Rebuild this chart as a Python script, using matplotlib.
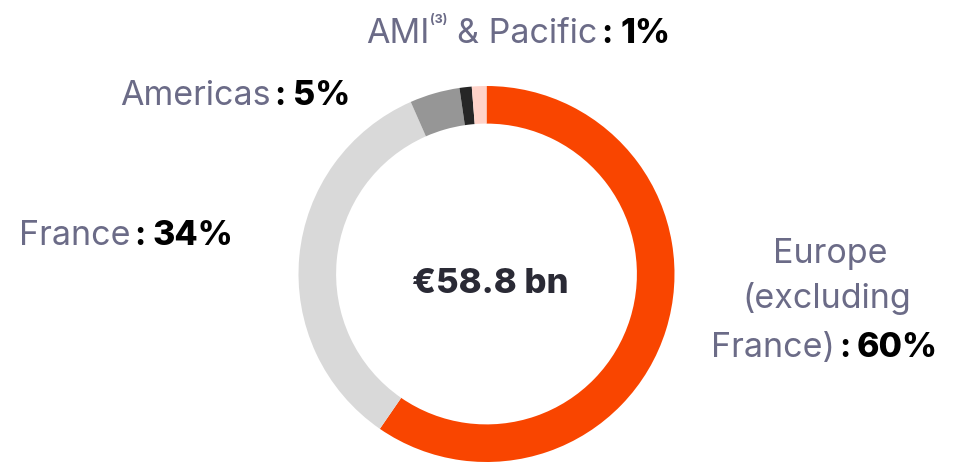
import matplotlib
matplotlib.use("Agg")
import matplotlib.pyplot as plt

# ---- data ----
segments = ["Europe (excluding France)", "France", "Americas", "AMI", "Pacific"]
shares = [59.6, 33.8, 4.3, 1.05, 1.25]
colors = ["#f94500", "#d9d9d9", "#969696", "#262626", "#ffd3c9"]
total_label = "€58.8 bn"
label_pct = {"Europe": "60%", "France": "34%", "Americas": "5%", "AMI & Pacific": "1%"}

W, H = 961, 462
fig = plt.figure(figsize=(W / 100, H / 100), dpi=100)
ax = fig.add_axes([0, 0, 1, 1])

cx, cy, R = 486.5, H - 274, 188
ax.pie(shares, colors=colors, startangle=90, counterclock=False,
       center=(cx, cy), radius=R, wedgeprops=dict(width=R * 0.2, linewidth=0),
       frame=True)
ax.set_xlim(0, W)
ax.set_ylim(0, H)
ax.set_aspect("equal")
ax.axis("off")

GREY = "#6b6b87"
FONT = ["Inter", "DejaVu Sans"]
LS = 24.5
fig.canvas.draw()
rend = fig.canvas.get_renderer()


def place(pieces, x, y, align="left"):
    """pieces: list of (text, kwargs, gap_after_px, dy). y in image coords (baseline)."""
    arts = []
    widths = []
    for txt, kw, gap, dy in pieces:
        t = ax.text(0, H - y + dy, txt, va="baseline", ha="left", family=FONT, **kw)
        bb = t.get_window_extent(rend)
        arts.append(t)
        widths.append(bb.width + gap)
    total = sum(widths) - pieces[-1][2]
    if align == "right":
        x = x - total
    elif align == "center":
        x = x - total / 2
    for t, w in zip(arts, widths):
        t.set_x(x)
        x += w


lab = dict(fontsize=LS, color=GREY)
col = dict(fontsize=LS, color="black", fontweight="bold")
pct = dict(fontsize=LS, color="black", fontweight="heavy")
sup = dict(fontsize=9, color=GREY, fontweight="bold")

# Americas
place([("Americas", lab, 4, 0), (":", col, 7, 0), (label_pct["Americas"], pct, 0, 0)], 350, 105, "right")
# France
place([("France", lab, 4, 0), (":", col, 7, 0), (label_pct["France"], pct, 0, 0)], 233, 245, "right")
# AMI & Pacific
place([("AMI", lab, 0, 0), ("(3)", sup, 10, 20), ("& Pacific", lab, 4, 0), (":", col, 7, 0),
       (label_pct["AMI & Pacific"], pct, 0, 0)], 670, 43, "right")
# Europe
place([("Europe", lab, 0, 0)], 830, 263, "center")
place([("(excluding", lab, 0, 0)], 827, 308, "center")
place([("France)", lab, 4, 0), (":", col, 7, 0), (label_pct["Europe"], pct, 0, 0)], 938, 357, "right")
# centre
ax.text(490, H - 293, total_label, ha="center", va="baseline", family=FONT,
        fontsize=25, fontweight="heavy", color="#2a2a35")

fig.savefig("out.png", dpi=100)
